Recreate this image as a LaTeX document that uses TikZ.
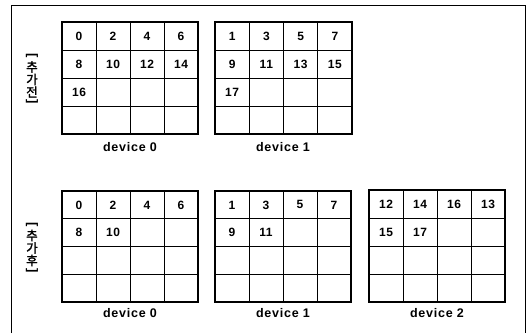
\documentclass[tikz,border=0pt]{standalone}
\usepackage{fontspec}
\setmainfont{Liberation Sans}
\newfontfamily\krfont{Noto Sans CJK KR}[AutoFakeBold=2]
\newcommand{\mygrid}[4]{%
  \foreach \i in {1,2,3} {
    \draw[gridthin] ({#1+\i*#3},#2) -- ({#1+\i*#3},{#2+4*#4});
    \draw[gridthin] (#1,{#2+\i*#4}) -- ({#1+4*#3},{#2+\i*#4});
  }
  \draw[gridthick] (#1,#2) rectangle ({#1+4*#3},{#2+4*#4});
}
\newcommand{\mynums}[6]{% x0 y0 w h prefix list
  \foreach \c/\r/\t in {#6} {
    \node[cellnum] (#5-\c-\r) at ({#1+(\c+0.5)*#3},{#2+(\r+0.5)*#4}) {\t};
  }
}
\begin{document}
\begin{tikzpicture}[x=1pt,y=-1pt,
  cellnum/.style={font=\fontsize{12}{12}\selectfont\bfseries\addfontfeatures{LetterSpace=5}, inner sep=0pt},
  devlabel/.style={font=\fontsize{12.5}{12.5}\selectfont\bfseries\addfontfeatures{LetterSpace=6}, inner sep=0pt},
  sidechar/.style={font=\krfont\fontsize{12.5}{12.5}\selectfont\bfseries, inner sep=0pt},
  sidebrk/.style={font=\fontsize{13}{13}\selectfont\bfseries, inner sep=0pt, rotate=-90},
  gridthin/.style={line width=0.9pt},
  gridthick/.style={line width=1.8pt},
  frame/.style={line width=1pt}]
\useasboundingbox (0,0) rectangle (530,333);
\draw[frame] (11,333) -- (11,5) -- (525,5) -- (525,333);

% top: before addition
\mygrid{62}{22}{34}{28}
\mynums{62}{22}{34}{28}{ta}{0/0/0,1/0/2,2/0/4,3/0/6,0/1/8,1/1/10,2/1/12,3/1/14,0/2/16}
\mygrid{215}{22}{34.25}{28}
\mynums{215}{22}{34.25}{28}{tb}{0/0/1,1/0/3,2/0/5,3/0/7,0/1/9,1/1/11,2/1/13,3/1/15,0/2/17}
\node[devlabel] (tla) at (130,147) {device 0};
\node[devlabel] (tlb) at (283,147) {device 1};

% bottom: after addition
\mygrid{62}{191}{34}{27.75}
\mynums{62}{191}{34}{27.75}{ba}{0/0/0,1/0/2,2/0/4,3/0/6,0/1/8,1/1/10}
\mygrid{215}{191}{34}{27.75}
\mynums{215}{191}{34}{27.75}{bb}{0/0/1,1/0/3,2/0/5,3/0/7,0/1/9,1/1/11}
\mygrid{369}{190}{34}{28}
\mynums{369}{190}{34}{28}{bc}{0/0/12,1/0/14,2/0/16,3/0/13,0/1/15,1/1/17}
\node[devlabel] (bla) at (130,313) {device 0};
\node[devlabel] (blb) at (283,313) {device 1};
\node[devlabel] (blc) at (437,313) {device 2};

% side labels
\node[sidebrk] (s1o) at (32,56) {[};
\node[sidechar] (s1a) at (32,67) {추};
\node[sidechar] (s1b) at (32,79.5) {가};
\node[sidechar] (s1c) at (32,92) {전};
\node[sidebrk] (s1e) at (32,102) {]};
\node[sidebrk] (s2o) at (32,224.5) {[};
\node[sidechar] (s2a) at (32,235.5) {추};
\node[sidechar] (s2b) at (32,248) {가};
\node[sidechar] (s2c) at (32,260.5) {후};
\node[sidebrk] (s2e) at (32,270.5) {]};
\end{tikzpicture}
\end{document}
